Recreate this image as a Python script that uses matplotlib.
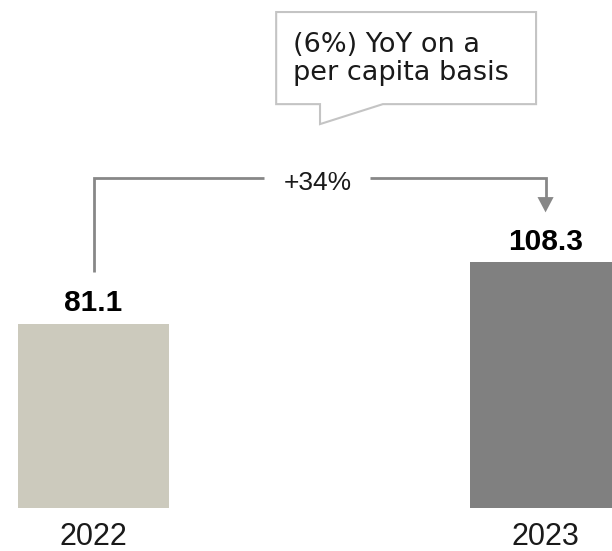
import matplotlib.pyplot as plt
from matplotlib.patches import Polygon

plt.rcParams['font.family'] = ['Liberation Sans', 'DejaVu Sans']

years = ["2022", "2023"]
values = [81.1, 108.3]
bar_colors = ["#cccabd", "#808080"]
growth_label = "+34%"
note_lines = ["(6%) YoY on a", "per capita basis"]

fig = plt.figure(figsize=(6.12, 5.51), dpi=100)
# axes spans the full width; baseline sits a little above the bottom edge
ax = fig.add_axes([0, 43 / 551, 1, 508 / 551])
x = [0, 1]
ax.bar(x, values, width=0.334, color=bar_colors)
ax.set_xlim(-0.207, 1.147)
ax.set_ylim(0, 223.9)

for s in ax.spines.values():
    s.set_visible(False)
ax.set_yticks([])
ax.set_xticks(x)
ax.set_xticklabels(years, fontsize=22, color="#1a1a1a")
ax.tick_params(axis="x", length=0, pad=10)

# value labels on top of bars
for xi, v in zip(x, values):
    ax.annotate(f"{v:.1f}", (xi, v), xytext=(0, 9), textcoords="offset points",
                ha="center", va="baseline", fontsize=21.5, fontweight="bold", color="#000000")

# growth bracket from 2022 to 2023
grey = "#878787"
line_kw = dict(color=grey, lw=2, solid_capstyle="butt", solid_joinstyle="miter")
off = 23
top = 145.4
ax.plot([0, 0, 0.377], [values[0] + off, top, top], **line_kw)
ax.plot([0.612, 1, 1], [top, top, values[1] + off + 5], **line_kw)
ax.annotate("", xy=(1, values[1] + off - 1), xytext=(1, values[1] + off + 6),
            arrowprops=dict(arrowstyle="-|>,head_length=1.1,head_width=0.58",
                            color=grey, lw=0, shrinkA=0, shrinkB=0))
ax.text(0.496, 140.1, growth_label, ha="center", va="baseline", fontsize=19, color="#1a1a1a")

# callout box
box = [(0.404, 218.6), (0.979, 218.6), (0.979, 178.0), (0.640, 178.0),
       (0.501, 169.2), (0.501, 178.0), (0.404, 178.0)]
ax.add_patch(Polygon(box, closed=True, facecolor="white", edgecolor="#c4c4c4", lw=1.5))
for txt, yb in zip(note_lines, [201.0, 188.6]):
    ax.text(0.441, yb, txt, ha="left", va="baseline", fontsize=19.5,
            family="DejaVu Sans", color="#1a1a1a")

fig.savefig("out.png", dpi=100)
